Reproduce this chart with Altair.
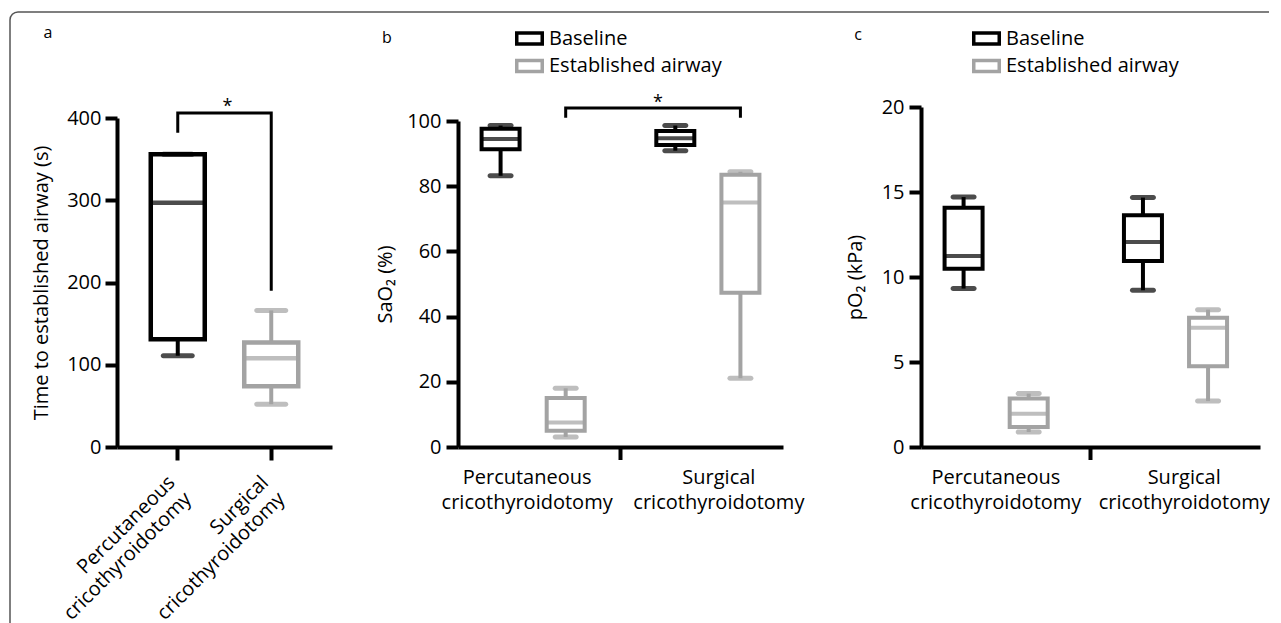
import altair as alt
import pandas as pd

FONT = "Open Sans"
BLACK = "#000000"
GRAY = "#a3a3a3"
FRAME = "#555555"

GROUPS = ["Percutaneous cricothyroidotomy", "Surgical cricothyroidotomy"]
SERIES = ["Baseline", "Established airway"]
SERIES_COLORS = [BLACK, GRAY]

# ---- Panel a: time to established airway (s), one box per group
a_min = [111, 52]
a_q1 = [131, 74]
a_med = [297, 108]
a_q3 = [356, 127]
a_max = [356, 166]
a_ticks = [0, 100, 200, 300, 400]
a_bracket_low = [382, 190]
a_bracket_top = 406

# ---- Panel b: SaO2 (%), order (Perc,Base), (Perc,Est), (Surg,Base), (Surg,Est)
b_min = [83.2, 3.1, 90.9, 21.1]
b_q1 = [91.3, 5.0, 92.6, 47.3]
b_med = [94.5, 7.5, 94.7, 75.0]
b_q3 = [97.6, 15.0, 96.9, 83.5]
b_max = [98.6, 18.0, 98.6, 84.4]
b_ticks = [0, 20, 40, 60, 80, 100]
b_bracket_low = [101, 101]
b_bracket_top = 104

# ---- Panel c: pO2 (kPa)
c_min = [9.32, 0.88, 9.22, 2.70]
c_q1 = [10.49, 1.18, 10.94, 4.75]
c_med = [11.24, 1.96, 12.06, 7.02]
c_q3 = [14.07, 2.85, 13.63, 7.61]
c_max = [14.70, 3.14, 14.67, 8.08]
c_ticks = [0, 5, 10, 15, 20]

H = 340


def yscale(domain_max, top_px):
    return alt.Scale(domain=[0, domain_max], range=[H, top_px], nice=False, zero=True)


# ================= Panel a =================
A_W = 215
A_PO = 0.15
a_step = A_W / (2 + 2 * A_PO)
df_a = pd.DataFrame({"group": GROUPS, "lo": a_min, "q1": a_q1, "med": a_med, "q3": a_q3, "hi": a_max,
                     "col": SERIES_COLORS})

xa = alt.X("group:N", sort=GROUPS,
           scale=alt.Scale(domain=GROUPS, paddingInner=0, paddingOuter=A_PO),
           axis=alt.Axis(title=None, labelAngle=-45, labelAlign="right", labelBaseline="top",
                         labelExpr="split(datum.label, ' ')", labelLineHeight=23,
                         labelPadding=12, labelOffset=-13, tickSize=13))
ysa = yscale(400, 11)
col_a = alt.Color("col:N", scale=None)
str_a = alt.Stroke("col:N", scale=None)

base_a = alt.Chart(df_a)
a_whisk = base_a.mark_rule(strokeWidth=4).encode(
    x=xa,
    y=alt.Y("lo:Q", scale=ysa, axis=alt.Axis(values=a_ticks, title="Time to established airway (s)",
                                             titlePadding=15, labelPadding=4)),
    y2="hi:Q", color=col_a)
a_box = base_a.mark_bar(size=54, fill="white", strokeWidth=4.5).encode(
    x=xa, y=alt.Y("q1:Q", scale=ysa), y2="q3:Q", stroke=str_a)
a_medt = base_a.mark_tick(size=56, thickness=4.5).encode(x=xa, y=alt.Y("med:Q", scale=ysa), color=col_a)
a_lo = base_a.mark_tick(size=34, thickness=5, cornerRadius=2.5).encode(x=xa, y=alt.Y("lo:Q", scale=ysa), color=col_a)
a_hi = base_a.mark_tick(size=34, thickness=5, cornerRadius=2.5).encode(x=xa, y=alt.Y("hi:Q", scale=ysa), color=col_a)

df_abr = pd.DataFrame({
    "group": [GROUPS[0], GROUPS[0], GROUPS[1], GROUPS[1]],
    "y": [a_bracket_low[0], a_bracket_top, a_bracket_top, a_bracket_low[1]],
    "o": [0, 1, 2, 3]})
a_br = alt.Chart(df_abr).mark_line(color=BLACK, strokeWidth=3, strokeJoin="miter").encode(
    x=xa, y=alt.Y("y:Q", scale=ysa), order="o:Q")
a_star = alt.Chart(pd.DataFrame({"group": [GROUPS[0]], "y": [a_bracket_top], "t": ["*"]})).mark_text(
    fontSize=18, baseline="alphabetic", dx=a_step / 2 + 3, dy=-1, color=BLACK, font=FONT).encode(
    x=xa, y=alt.Y("y:Q", scale=ysa), text="t:N")

one = pd.DataFrame({"k": [0]})
a_letter = alt.Chart(pd.DataFrame({"t": ["a"]})).mark_text(fontSize=16, font=FONT, color=BLACK).encode(
    text="t:N", x=alt.value(-69), y=alt.value(-74))
frame_top = alt.Chart(one).mark_rule(color=FRAME, strokeWidth=1.5).encode(
    x=alt.value(-99), x2=alt.value(1152), y=alt.value(-95))
frame_left = alt.Chart(one).mark_rule(color=FRAME, strokeWidth=1.5).encode(
    x=alt.value(-107), y=alt.value(-87), y2=alt.value(560))
frame_corner = alt.Chart(one).mark_arc(theta=4.7124, theta2=6.2832, innerRadius=7.25, outerRadius=8.75,
                                       color=FRAME).encode(x=alt.value(-99), y=alt.value(-87))

panel_a = alt.layer(a_whisk, a_box, a_medt, a_lo, a_hi, a_br, a_star, a_letter,
                    frame_top, frame_left, frame_corner).properties(width=A_W, height=H)


# ================= Panels b, c (grouped) =================
def grouped_panel(vmin, vq1, vmed, vq3, vmax, ticks, ymax, top_px, title, title_pad,
                  plot_w, range_w, pad_inner, sub_po, lab_off, legend_x, letter, letter_xy,
                  bracket=None):
    df = pd.DataFrame({
        "group": [GROUPS[0], GROUPS[0], GROUPS[1], GROUPS[1]],
        "series": SERIES * 2,
        "col": SERIES_COLORS * 2,
        "lo": vmin, "q1": vq1, "med": vmed, "q3": vq3, "hi": vmax})
    step = range_w / (2 - pad_inner)
    x = alt.X("group:N", sort=GROUPS,
              scale=alt.Scale(domain=GROUPS, range=[0, range_w], paddingInner=pad_inner, paddingOuter=0),
              axis=alt.Axis(title=None, ticks=False, labelAngle=0, labelAlign="center", labelBaseline="top",
                            labelExpr="split(datum.label, ' ')", labelLineHeight=25, labelPadding=20,
                            labelOffset={"condition": {"test": f"datum.value == '{GROUPS[0]}'",
                                                       "value": lab_off[0]},
                                         "value": lab_off[1]}))
    xo = alt.XOffset("series:N", sort=SERIES,
                     scale=alt.Scale(domain=SERIES, paddingInner=0, paddingOuter=sub_po))
    ys = yscale(ymax, top_px)
    col = alt.Color("col:N", scale=None)
    stro = alt.Stroke("series:N", scale=alt.Scale(domain=SERIES, range=SERIES_COLORS),
                      legend=alt.Legend(orient="none", legendX=legend_x, legendY=-83, title=None,
                                        symbolType="M-1,-0.43H1V0.43H-1Z", symbolSize=650,
                                        symbolStrokeWidth=3.5, symbolFillColor="white",
                                        labelFontSize=20, labelFont=FONT, labelColor=BLACK,
                                        labelOffset=5, rowPadding=0.5, padding=0, labelLimit=400))
    base = alt.Chart(df)
    whisk = base.mark_rule(strokeWidth=4).encode(
        x=x, xOffset=xo,
        y=alt.Y("lo:Q", scale=ys, axis=alt.Axis(values=ticks, title=title, titlePadding=title_pad,
                                                labelPadding=5)),
        y2="hi:Q", color=col)
    box = base.mark_bar(size=38, fill="white", strokeWidth=4).encode(
        x=x, xOffset=xo, y=alt.Y("q1:Q", scale=ys), y2="q3:Q", stroke=stro)
    medt = base.mark_tick(size=40, thickness=4).encode(x=x, xOffset=xo, y=alt.Y("med:Q", scale=ys), color=col)
    lo = base.mark_tick(size=26, thickness=5, cornerRadius=2.5).encode(
        x=x, xOffset=xo, y=alt.Y("lo:Q", scale=ys), color=col)
    hi = base.mark_tick(size=26, thickness=5, cornerRadius=2.5).encode(
        x=x, xOffset=xo, y=alt.Y("hi:Q", scale=ys), color=col)
    mid_tick = alt.Chart(one).mark_rule(strokeWidth=4, color=BLACK).encode(
        x=alt.value(range_w / 2), y=alt.value(H), y2=alt.value(H + 13))
    let = alt.Chart(pd.DataFrame({"t": [letter]})).mark_text(fontSize=16, font=FONT, color=BLACK).encode(
        text="t:N", x=alt.value(letter_xy[0]), y=alt.value(letter_xy[1]))
    layers = [whisk, box, medt, lo, hi, mid_tick, let]
    if bracket is not None:
        low, top, ser = bracket
        dfb = pd.DataFrame({
            "group": [GROUPS[0], GROUPS[0], GROUPS[1], GROUPS[1]],
            "series": [ser] * 4,
            "y": [low[0], top, top, low[1]],
            "o": [0, 1, 2, 3]})
        br = alt.Chart(dfb).mark_line(color=BLACK, strokeWidth=3, strokeJoin="miter").encode(
            x=x, xOffset=xo, y=alt.Y("y:Q", scale=ys), order="o:Q")
        star = alt.Chart(pd.DataFrame({"group": [GROUPS[0]], "series": [ser], "y": [top], "t": ["*"]})).mark_text(
            fontSize=18, baseline="alphabetic", dx=step / 2 + 5, dy=0, color=BLACK, font=FONT).encode(
            x=x, xOffset=xo, y=alt.Y("y:Q", scale=ys), text="t:N")
        layers += [br, star]
    return alt.layer(*layers).properties(width=plot_w, height=H)


panel_b = grouped_panel(b_min, b_q1, b_med, b_q3, b_max, b_ticks, 100, 14, "SaO₂ (%)", 11,
                        337, 325, 0.14, 0.154, (-6, 11), 57, "b", (-71, -69),
                        bracket=(b_bracket_low, b_bracket_top, SERIES[1]))
panel_c = grouped_panel(c_min, c_q1, c_med, c_q3, c_max, c_ticks, 20, 0, "pO₂ (kPa)", 16,
                        339, 339, 0.11, 0.176, (-5, 4), 51, "c", (-63, -72))

chart = alt.hconcat(panel_a, panel_b, panel_c, spacing=126, bounds="flush").resolve_scale(
    stroke="independent"
).resolve_legend(
    stroke="independent"
).properties(
    padding={"left": 1, "top": 3, "right": 0, "bottom": 0}
).configure(font=FONT).configure_view(stroke=None).configure_axis(
    domainColor=BLACK, tickColor=BLACK, labelColor=BLACK, titleColor=BLACK,
    domainWidth=4, tickWidth=4, tickSize=12, grid=False,
    labelFont=FONT, titleFont=FONT, labelFontSize=20, titleFontSize=20, titleFontWeight="normal"
)

chart.save("out.html", embed_options={"renderer": "svg", "actions": False})
